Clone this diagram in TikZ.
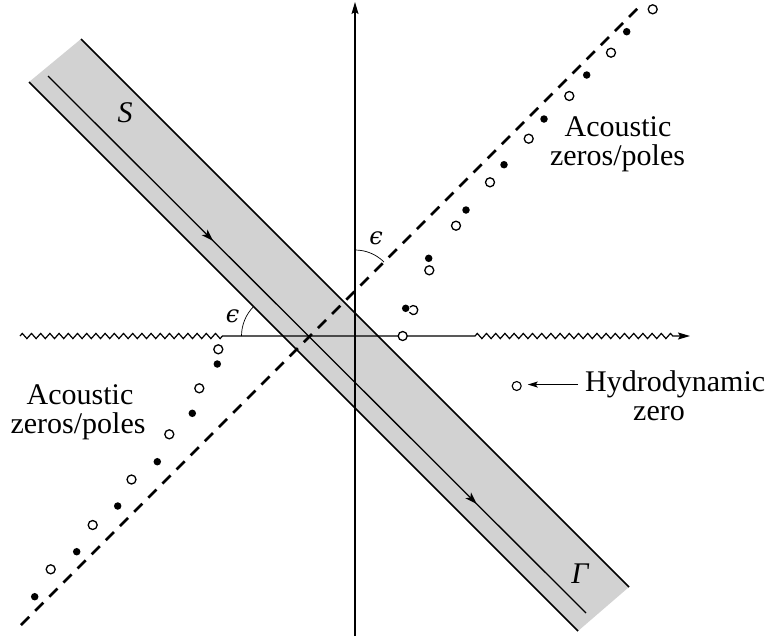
\documentclass[tikz,border=0pt]{standalone}
\usepackage{fontspec}
\setmainfont{Liberation Serif}
\newfontfamily\lblfont{Liberation Serif}
\newfontfamily\epsfont{DejaVu Serif}
\usetikzlibrary{arrows.meta,decorations.pathmorphing,decorations.markings}
\begin{document}
\begin{tikzpicture}[x=1pt,y=-1pt,
  lbl/.style={font=\lblfont\fontsize{30}{30}\selectfont, inner sep=0pt},
  eps/.style={font=\epsfont\itshape\fontsize{24}{24}\selectfont, inner sep=0pt},
  opendot/.style={circle, draw, line width=1.3pt, fill=white, minimum size=9pt, inner sep=0pt},
  fulldot/.style={circle, fill=black, minimum size=7.5pt, inner sep=0pt},
  stripedge/.style={line width=1.5pt},
  axisline/.style={line width=1.2pt},
  axtip/.style={-{Stealth[length=12pt,width=7pt,inset=2pt]}},
  zz/.style={decoration={zigzag, segment length=9.2pt, amplitude=2.6pt}},
  angarc/.style={line width=0.7pt},
  flowtip/.style={decoration={markings,
     mark=at position 0.307 with {\arrow{Stealth[length=12pt,width=8pt,inset=3pt]}},
     mark=at position 0.797 with {\arrow{Stealth[length=12pt,width=8pt,inset=3pt]}}},
     postaction={decorate}},
]
\useasboundingbox (0,0) rectangle (768,641);

% grey strip (contour region)
\coordinate (sA) at (81,39);
\coordinate (sB) at (629,587);
\coordinate (sC) at (578,631);
\coordinate (sD) at (29,82);
\fill[gray!35] (sA) -- (sB) -- (sC) -- (sD) -- cycle;
\draw[stripedge] (sA) -- (sB);
\draw[stripedge] (sD) -- (sC);
\coordinate (cS) at (48,76);
\coordinate (cE) at (586,613);
\draw[line width=1.3pt, flowtip] (cS) -- (cE);

% axes
\coordinate (hL) at (20,336);
\coordinate (z1) at (223,336);
\coordinate (z2) at (475,336);
\coordinate (z3) at (677,336);
\coordinate (hR) at (690,336);
\draw[axisline, axtip] (hL) decorate[zz]{-- (z1)} -- (z2) decorate[zz]{-- (z3)} -- (hR);
\coordinate (vB) at (355,636);
\coordinate (vT) at (355,2);
\draw[axisline, axtip] (vB) -- (vT);

% dashed line
\coordinate (dA) at (21,625);
\coordinate (dB) at (639,7);
\draw[line width=2.8pt, dash pattern=on 11.5pt off 8.5pt] (dA) -- (dB);

% angle arcs
\coordinate (o1) at (355,291);
\draw[angarc] (o1) ++(-90:41) arc[start angle=-90, end angle=-45, radius=41];
\coordinate (o2) at (283.5,336);
\draw[angarc] (o2) ++(180:42) arc[start angle=180, end angle=225, radius=42];
\node[eps] (e1) at (376,238) {ϵ};
\node[eps] (e2) at (232.7,316) {ϵ};

% upper-right zeros/poles
\node[opendot] (u1) at (652.7,9.3) {};
\node[fulldot] (u2) at (626.7,31.7) {};
\node[opendot] (u3) at (611,52.7) {};
\node[fulldot] (u4) at (586.7,75) {};
\node[opendot] (u5) at (569.3,96) {};
\node[fulldot] (u6) at (544,119) {};
\node[opendot] (u7) at (528.7,138.7) {};
\node[fulldot] (u8) at (504,164.7) {};
\node[opendot] (u9) at (490,182.3) {};
\node[fulldot] (u10) at (466,210) {};
\node[opendot] (u11) at (456,225.7) {};
\node[fulldot] (u12) at (428.7,258.3) {};
\node[opendot] (u13) at (429.3,270.3) {};
\coordinate (u14) at (413.3,310);
\draw[line width=1.3pt] (u14) ++(-140:4.5) arc[start angle=-140, end angle=150, radius=4.5];
\node[fulldot] (u15) at (405.7,308.3) {};
\node[opendot] (u16) at (402.7,336) {};

% lower-left zeros/poles
\node[opendot] (l1) at (218.3,349.3) {};
\node[fulldot] (l2) at (217.3,364) {};
\node[opendot] (l3) at (199.3,388.3) {};
\node[fulldot] (l4) at (192.3,413.3) {};
\node[opendot] (l5) at (169.3,434.3) {};
\node[fulldot] (l6) at (157.3,461.7) {};
\node[opendot] (l7) at (131.5,479.5) {};
\node[fulldot] (l8) at (117.7,506) {};
\node[opendot] (l9) at (92.7,525) {};
\node[fulldot] (l10) at (76.7,551.7) {};
\node[opendot] (l11) at (50.7,569.3) {};
\node[fulldot] (l12) at (34.7,596.7) {};

% hydrodynamic zero
\node[opendot, line width=1.1pt] (hz) at (516.7,386) {};

% labels
\node[lbl, anchor=base] (ar1) at (618,136.5) {Acoustic};
\node[lbl, anchor=base] (ar2) at (617.5,165) {zeros/poles};
\node[lbl, anchor=base] (al1) at (80,404) {Acoustic};
\node[lbl, anchor=base] (al2) at (78,433) {zeros/poles};
\node[lbl, anchor=base west] (hydro) at (585,391.7) {Hydrodynamic};
\node[lbl, anchor=base west] (hzero) at (633,420) {zero};
\node[lbl] (lS) at (125,113) {\itshape S};
\node[lbl] (lG) at (580,574) {\itshape Γ};

\draw[line width=1.1pt, -{Stealth[length=10pt,width=6pt,inset=2pt]}, shorten <=7pt, shorten >=6pt]
  (hydro.west) -- (hydro.west -| hz.east);
\end{tikzpicture}
\end{document}
